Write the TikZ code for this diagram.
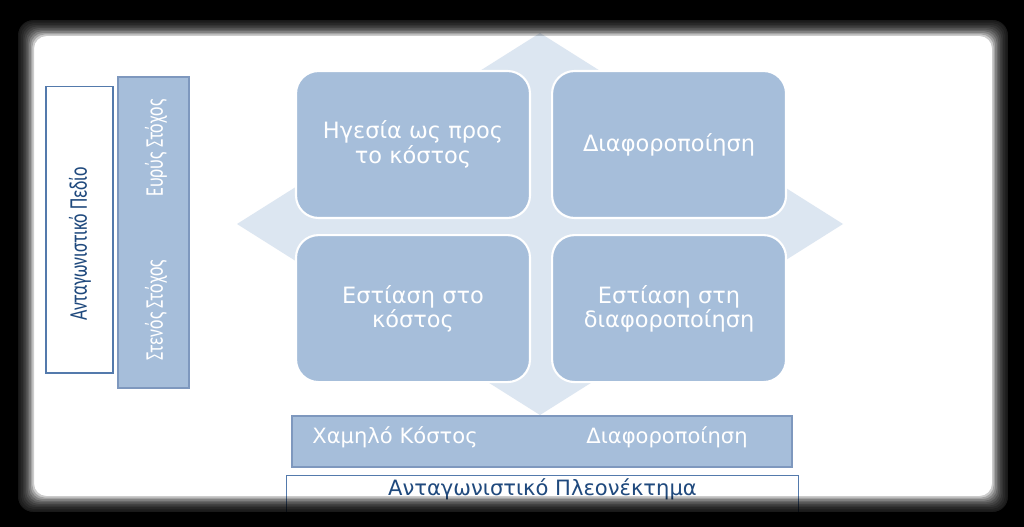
\documentclass[tikz,border=0pt]{standalone}
\usepackage{fontspec}
\setmainfont{DejaVu Sans}
\newfontfamily\narrowfont[FakeStretch=0.7]{Carlito}
\usetikzlibrary{positioning}
\definecolor{boxblue}{RGB}{166,190,218}
\definecolor{barline}{RGB}{126,152,190}
\definecolor{crossblue}{RGB}{220,230,241}
\definecolor{labelblue}{RGB}{31,73,125}
\definecolor{frameline}{RGB}{84,122,172}
\tikzset{
  quad/.style={draw=white, line width=1.2pt, fill=boxblue, rounded corners=0.45cm,
    minimum width=4.68cm, minimum height=2.94cm, text=white, align=center,
    font=\fontsize{12.8}{12.5}\selectfont},
  bar/.style={draw=barline, line width=0.8pt, fill=boxblue},
  framebox/.style={draw=frameline, line width=0.6pt, fill=white},
  barlabel/.style={text=white, font=\fontsize{12}{14}\selectfont},
  sidelabel/.style={rotate=90, font=\narrowfont\fontsize{14.5}{16}\selectfont}
}
\begin{document}
\begin{tikzpicture}[x=0.02cm, y=-0.02cm]
\useasboundingbox (0,0) rectangle (1024,527);
\fill[white] (0,0) rectangle (1024,527);
% four-way arrow behind the grid
\fill[crossblue] (540,33) -- (613,79) -- (570,79) -- (570,205) -- (770,205) -- (770,178)
  -- (843,224) -- (770,270) -- (770,243) -- (570,243) -- (570,369) -- (613,369)
  -- (540,415) -- (467,369) -- (510,369) -- (510,243) -- (310,243) -- (310,270)
  -- (237,224) -- (310,178) -- (310,205) -- (510,205) -- (510,79) -- (467,79) -- cycle;
\node(leader)[quad] at (413,144.5){Ηγεσία ως προς\\το κόστος};
\node(diff)[quad, right=0.4cm of leader]{Διαφοροποίηση};
\node(costfocus)[quad, below=0.3cm of leader]{Εστίαση στο\\κόστος};
\node(difffocus)[quad, below=0.3cm of diff]{Εστίαση στη\\διαφοροποίηση};
% scope axis on the left
\node(field)[framebox, minimum width=1.34cm, minimum height=5.74cm] at (79.5,229.5){};
\node(scope)[bar, minimum width=1.42cm, minimum height=6.22cm] at (153.5,232.5){};
\node(fieldtext)[sidelabel, text=labelblue] at (80,244){Ανταγωνιστικό Πεδίο};
\node(broad)[sidelabel, text=white] at (156,148){Ευρύς Στόχος};
\node(narrow)[sidelabel, text=white] at (156,310){Στενός Στόχος};
% advantage axis at the bottom
\node(advantage)[bar, minimum width=10cm, minimum height=1.02cm] at (542,441.5){};
\node(lowcost)[barlabel] at (395,437){Χαμηλό Κόστος};
\node(differ)[barlabel] at (667,437){Διαφοροποίηση};
\node(edge)[framebox, anchor=north, minimum width=10.26cm, inner ysep=0.09cm,
  text height=0.31cm, text depth=0.6cm, text=labelblue,
  font=\fontsize{12}{14}\selectfont] at (542.5,475){Ανταγωνιστικό Πλεονέκτημα};
% dark blurred frame
\fill[black, even odd rule] (0,0) rectangle (1024,527)
  [rounded corners=0.3cm] (18,20) rectangle (1008,512);
\foreach \k in {1,...,10}
  \fill[black, opacity=0.2, even odd rule] (0,0) rectangle (1024,527)
    [rounded corners=0.25cm] ({18+1.6*\k},{20+1.6*\k}) rectangle ({1008-1.6*\k},{512-1.6*\k});
\end{tikzpicture}
\end{document}
